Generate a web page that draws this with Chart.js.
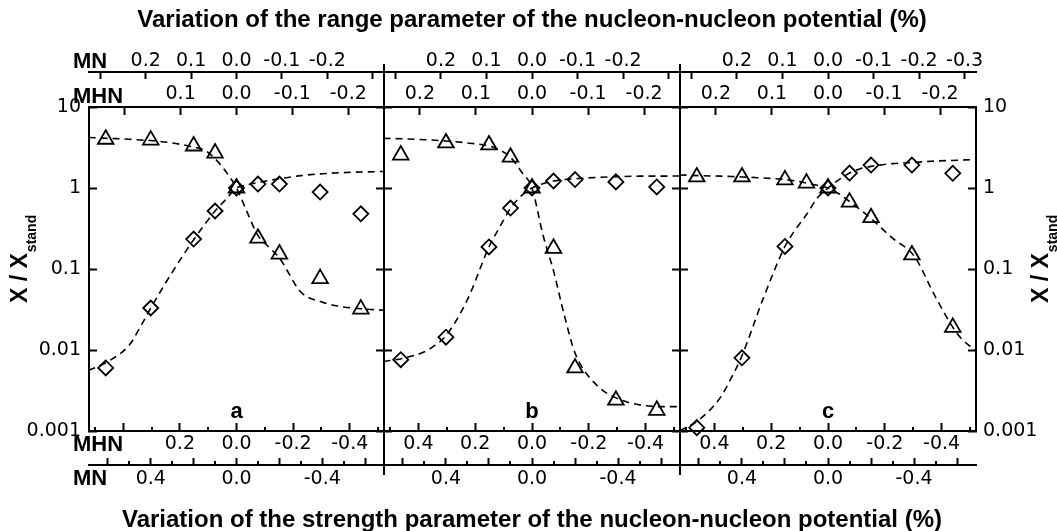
<!DOCTYPE html>
<html>
<head>
<meta charset="utf-8">
<script src="https://cdn.jsdelivr.net/npm/chart.js@4/dist/chart.umd.min.js"></script>
<style>
  html, body { margin: 0; padding: 0; background: #fff; }
  #wrap { position: relative; width: 1057px; height: 531px; }
  #wrap canvas { position: absolute; left: 0; top: 0; }
</style>
</head>
<body>
<div id="wrap">
  <canvas id="panelA" width="1057" height="531"></canvas>
  <canvas id="panelB" width="1057" height="531"></canvas>
  <canvas id="panelC" width="1057" height="531"></canvas>
</div>
<script>
// x of the calculated points (variation of the MN strength parameter, %)
const pointX = [0.61, 0.40, 0.20, 0.10, 0, -0.10, -0.20, -0.39, -0.58];
const curveX = [0.69, 0.6, 0.5, 0.45, 0.4, 0.3, 0.2, 0.15, 0.1, 0.05, 0, -0.05, -0.1, -0.15, -0.2, -0.3, -0.4, -0.5, -0.6, -0.69];

// panel a
const triA = [4.0, 3.9, 3.3, 2.7, 1.0, 0.24, 0.153, 0.076, 0.032];
const diaA = [0.006, 0.033, 0.234, 0.52, 1.0, 1.12, 1.12, 0.89, 0.48];
const triFitA = [4.2, 4.1, 4.0, 3.92, 3.85, 3.6, 3.2, 2.95, 2.3, 1.6, 1.0, 0.5, 0.26, 0.187, 0.137, 0.052, 0.039, 0.034, 0.032, 0.031];
const diaFitA = [0.0056, 0.0072, 0.0115, 0.019, 0.033, 0.091, 0.23, 0.35, 0.52, 0.72, 1.0, 1.09, 1.17, 1.24, 1.3, 1.42, 1.5, 1.55, 1.58, 1.6];

// panel b
const triB = [2.55, 3.6, 3.4, 2.4, 1.0, 0.18, 0.006, 0.0024, 0.0018];
const diaB = [0.0076, 0.0144, 0.187, 0.566, 1.0, 1.22, 1.27, 1.19, 1.03];
const triFitB = [4.1, 4.05, 3.95, 3.88, 3.8, 3.6, 3.3, 2.95, 2.4, 1.6, 1.0, 0.27, 0.095, 0.027, 0.0092, 0.0037, 0.0025, 0.0021, 0.002, 0.002];
const diaFitB = [0.0072, 0.0079, 0.0095, 0.0115, 0.015, 0.042, 0.187, 0.33, 0.56, 0.8, 1.0, 1.13, 1.22, 1.27, 1.3, 1.35, 1.38, 1.4, 1.4, 1.41];

// panel c (no diamond at 0.1)
const triC = [1.37, 1.37, 1.26, 1.15, 1.0, 0.67, 0.43, 0.149, 0.019];
const diaC = [0.0011, 0.008, 0.19, null, 1.0, 1.53, 1.92, 1.92, 1.52];
const triFitC = [1.45, 1.42, 1.4, 1.385, 1.37, 1.33, 1.27, 1.22, 1.15, 1.08, 1.0, 0.85, 0.68, 0.54, 0.42, 0.24, 0.145, 0.045, 0.016, 0.0095];
const diaFitC = [0.001, 0.00137, 0.0026, 0.0045, 0.0085, 0.044, 0.19, 0.31, 0.47, 0.75, 1.0, 1.26, 1.53, 1.73, 1.85, 2.0, 2.07, 2.15, 2.2, 2.25];

// axes
const yTicks = [0.001, 0.01, 0.1, 1, 10];
const mnTopTicks = [0.3, 0.2, 0.1, 0, -0.1, -0.2, -0.3];
const mhnTopTicks = [0.2, 0.1, 0, -0.1, -0.2];
const mhnBotTicks = [0.4, 0.2, 0, -0.2, -0.4];
const mhnBotMinor = [0.5, 0.3, 0.1, -0.1, -0.3, -0.5];
const mnBotTicks = [0.6, 0.4, 0.2, 0, -0.2, -0.4, -0.6];
const mnBotLabels = [0.4, 0, -0.4];
const mnBotMinor = [0.5, 0.3, 0.1, -0.1, -0.3, -0.5];

const topTitle = "Variation of the range parameter of the nucleon-nucleon potential (%)";
const bottomTitle = "Variation of the strength parameter of the nucleon-nucleon potential (%)";

Chart.defaults.font.family = "DejaVu Sans";
Chart.defaults.color = "#000";

const tickFont = { family: "DejaVu Sans", size: 19 };
const border = { display: true, width: 2, color: "#000" };
const boldFont = size => "bold " + size + "px 'Liberation Sans'";

function grid(len) {
  // negative length -> tick marks point into the plot
  return { drawOnChartArea: false, drawTicks: true, tickLength: len, tickWidth: 2, tickColor: "#000", color: "#000" };
}
function fixedTicks(vals) {
  return s => { s.ticks = vals.map(v => ({ value: v })); };
}
function pts(xs, ys) {
  return xs.map((x, i) => ({ x: x, y: ys[i] })).filter(p => p.y != null);
}
function markerSet(ys, style, r) {
  return {
    data: pts(pointX, ys), showLine: false, pointStyle: style,
    pointRadius: r, pointHoverRadius: r, pointBorderWidth: 1.8,
    pointBorderColor: "#000", pointBackgroundColor: "rgba(0,0,0,0)", clip: false
  };
}
function curveSet(ys) {
  return {
    data: pts(curveX, ys), borderColor: "#000", borderWidth: 1.6, borderDash: [7, 5],
    pointRadius: 0, pointHoverRadius: 0, cubicInterpolationMode: "monotone", fill: false
  };
}

// labels, minor ticks, titles
const decor = {
  id: "decor",
  afterDraw(chart, args, o) {
    const { ctx, chartArea: area, scales } = chart;
    const bmn = scales.x, bmhn = scales.bmhn, tmn = scales.tmn;
    ctx.save();
    ctx.fillStyle = "#000";
    ctx.strokeStyle = "#000";
    ctx.lineWidth = 2;

    ctx.beginPath();
    mhnBotMinor.forEach(v => {
      const px = Math.round(bmhn.getPixelForValue(v));
      ctx.moveTo(px, bmhn.top); ctx.lineTo(px, bmhn.top - 4);
    });
    mnBotMinor.forEach(v => {
      const px = Math.round(bmn.getPixelForValue(v));
      ctx.moveTo(px, bmn.top); ctx.lineTo(px, bmn.top - 4);
    });
    ctx.stroke();

    // panel letter
    ctx.font = boldFont(22);
    ctx.textAlign = "center";
    ctx.textBaseline = "alphabetic";
    ctx.fillText(o.letter, bmn.getPixelForValue(0), area.bottom - 13);

    if (o.names) {
      ctx.textAlign = "left";
      const lx = area.left - 16;
      ctx.fillText("MN", lx, tmn.bottom - 4);
      ctx.fillText("MHN", lx, area.top - 4);
      ctx.fillText("MHN", lx, area.bottom + 20);
      ctx.fillText("MN", lx, bmn.top + 20);
    }

    if (o.yTitle) {
      const bx = o.yTitle === "left" ? area.left - 62 : area.right + 72;
      const sy = (area.top + area.bottom) / 2 + 34;
      ctx.save();
      ctx.translate(bx, sy);
      ctx.rotate(-Math.PI / 2);
      ctx.textAlign = "left";
      ctx.font = boldFont(23);
      ctx.fillText("X / X", 0, 0);
      const w = ctx.measureText("X / X").width;
      ctx.font = boldFont(14);
      ctx.fillText("stand", w + 1, 9);
      ctx.restore();
    }

    if (o.frame) {
      // panel separators run through the axis rows
      ctx.beginPath();
      [area.left, area.right].forEach(px => {
        px = Math.round(px);
        ctx.moveTo(px, tmn.bottom - 8);
        ctx.lineTo(px, bmn.top + 10);
      });
      ctx.stroke();
      ctx.font = boldFont(24);
      ctx.textAlign = "center";
      const cx = (area.left + area.right) / 2;
      ctx.fillText(topTitle, cx, tmn.top + 27);
      ctx.fillText(bottomTitle, cx, bmn.bottom - 4);
    }
    ctx.restore();
  }
};

const panels = [
  { id: "panelA", letter: "a", tri: triA, dia: diaA, triFit: triFitA, diaFit: diaFitA,
    pad: { left: 0, right: 673, top: 0, bottom: 0 }, leftW: 89, rightW: 0,
    hideTopMN: [0.3, -0.3], hideTopMHN: [0.2], hideBotMHN: [0.4], names: true, yTitle: "left" },
  { id: "panelB", letter: "b", tri: triB, dia: diaB, triFit: triFitB, diaFit: diaFitB,
    pad: { left: 384, right: 377, top: 0, bottom: 0 }, leftW: 0, rightW: 0,
    hideTopMN: [0.3, -0.3], hideTopMHN: [], hideBotMHN: [], frame: true },
  { id: "panelC", letter: "c", tri: triC, dia: diaC, triFit: triFitC, diaFit: diaFitC,
    pad: { left: 680, right: 0, top: 0, bottom: 0 }, leftW: 0, rightW: 81,
    hideTopMN: [0.3], hideTopMHN: [], hideBotMHN: [], yTitle: "right" }
];

panels.forEach(p => {
  const fmt = hide => v => (hide.includes(v) ? "" : v.toFixed(1));
  const xTicks = (pad, cb) => ({ autoSkip: false, maxRotation: 0, padding: pad, font: tickFont, color: "#000", callback: cb });

  new Chart(document.getElementById(p.id), {
    type: "line",
    data: {
      datasets: [
        markerSet(p.tri, "triangle", 9),
        markerSet(p.dia, "rectRot", 7.5),
        curveSet(p.triFit),
        curveSet(p.diaFit)
      ]
    },
    options: {
      responsive: false,
      animation: false,
      events: [],
      layout: { padding: p.pad },
      plugins: {
        legend: { display: false },
        tooltip: { enabled: false },
        decor: { letter: p.letter, names: !!p.names, yTitle: p.yTitle || "", frame: !!p.frame }
      },
      scales: {
        x: {
          type: "linear", position: "bottom", weight: 2, min: -0.688, max: 0.688, reverse: true,
          afterBuildTicks: fixedTicks(mnBotTicks), afterFit: s => { s.height = 66; },
          grid: grid(-7), border: border,
          ticks: xTicks(10, v => (mnBotLabels.includes(v) ? v.toFixed(1) : ""))
        },
        bmhn: {
          type: "linear", position: "bottom", weight: 1, min: -0.521, max: 0.521, reverse: true,
          afterBuildTicks: fixedTicks(mhnBotTicks), afterFit: s => { s.height = 34; },
          grid: grid(-8), border: border,
          ticks: xTicks(10, fmt(p.hideBotMHN))
        },
        tmhn: {
          type: "linear", position: "top", weight: 1, min: -0.264, max: 0.264, reverse: true,
          afterBuildTicks: fixedTicks(mhnTopTicks), afterFit: s => { s.height = 35; },
          grid: grid(-8), border: border,
          ticks: xTicks(10, fmt(p.hideTopMHN))
        },
        tmn: {
          type: "linear", position: "top", weight: 2, min: -0.325, max: 0.325, reverse: true,
          afterBuildTicks: fixedTicks(mnTopTicks), afterFit: s => { s.height = 72; },
          grid: grid(-7), border: border,
          ticks: xTicks(7, fmt(p.hideTopMN))
        },
        y: {
          type: "logarithmic", position: "left", min: 0.001, max: 10,
          afterBuildTicks: fixedTicks(yTicks), afterFit: s => { s.width = p.leftW; },
          grid: grid(-8), border: border,
          ticks: { display: p.leftW > 0, padding: 16, font: tickFont, color: "#000", callback: v => String(v) }
        },
        yr: {
          type: "logarithmic", position: "right", min: 0.001, max: 10,
          afterBuildTicks: fixedTicks(yTicks), afterFit: s => { s.width = p.rightW; },
          grid: grid(-8), border: border,
          ticks: { display: p.rightW > 0, padding: 15, font: tickFont, color: "#000", callback: v => String(v) }
        }
      }
    },
    plugins: [decor]
  });
});
</script>
</body>
</html>
